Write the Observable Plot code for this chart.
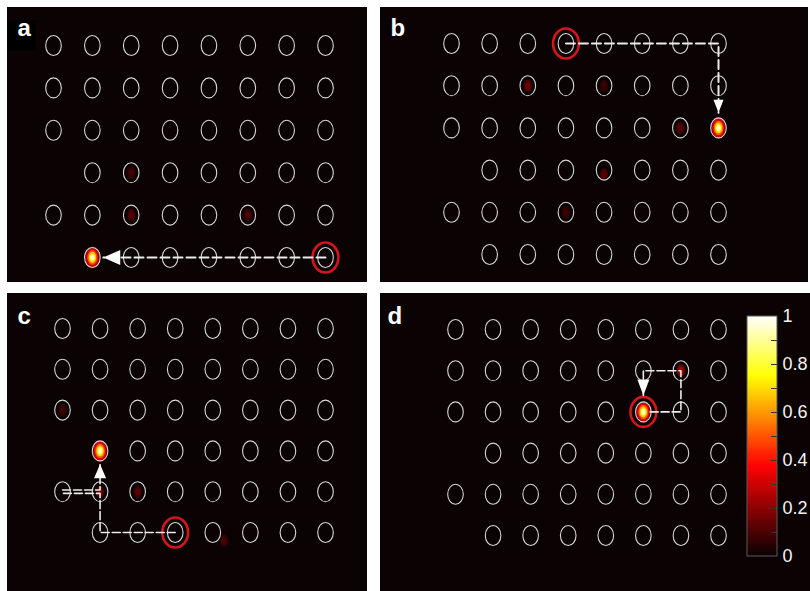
<!DOCTYPE html>
<html><head><meta charset="utf-8">
<script src="https://cdn.jsdelivr.net/npm/d3@7"></script>
<script src="https://cdn.jsdelivr.net/npm/@observablehq/plot@0.6"></script>
<style>
body{margin:0;background:#fff;}
#fig{position:relative;width:810px;height:591px;overflow:hidden;background:#fff;font-family:"Liberation Sans",Arial,sans-serif;}
.panel{position:absolute;}
.panel svg{display:block;max-width:none;}
</style></head><body><div id="fig"></div>
<script>
// ---- data ----
const columns = [0,1,2,3,4,5,6,7];
const rows = [0,1,2,3,4,5];
const emptySites = [[0,3],[0,5]];
const panelLabels = ["a","b","c","d"];
// start site (red circle) and final atom (bright spot), [column,row]
const startA = [7,5], startB = [3,0], startC = [3,5], startD = [5,2];
const atomA = [1,5], atomB = [7,2], atomC = [1,3], atomD = [5,2];
// move paths in grid units
const pathA = [[7,5],[1.28,5]];
const pathB = [[3,0],[7,0],[7,1.64]];
const pathC1 = [[3,5],[1,5],[1,4.04],[0,4.04]];
const pathC2 = [[0,3.96],[1,3.96],[1,3.33]];
const pathD = [[5.18,2],[6,2],[6,1],[5,1],[5,1.6]];
// arrow tips [column,row,direction]
const tipA = [1.28,5,"left"], tipB = [7,1.64,"down"], tipC = [1,3.33,"up"], tipD = [5,1.6,"down"];
// faint residual fluorescence [column,row,intensity]
const faintA = [[2,3,0.06],[2,4,0.08],[5,4,0.07]];
const faintB = [[2,1,0.1],[4,1,0.05],[6,2,0.08],[4,3.1,0.08],[3,4,0.05]];
const faintC = [[0,2,0.05],[1,4,0.1],[2,4,0.08],[4.3,5.2,0.06]];
const faintD = [[6,1,0.16]];
// colour bar
const colorbarTicks = [0,0.2,0.4,0.6,0.8,1];
const colorbarMinor = [0.1,0.2,0.3,0.4,0.5,0.6,0.7,0.8,0.9];

// ---- styles / geometry ----
const BG = "#0b0203";
const geo = {
  a:{left:7,top:7,width:360,height:275,x:[46,318],y:[38,250],dash:"9,4",sw:2,arrow:[17,15]},
  b:{left:380,top:7,width:428,height:275,x:[71,338],y:[36,247],dash:"9,4",sw:2,arrow:[13,10]},
  c:{left:7,top:293,width:360,height:298,x:[55,318],y:[35,239],dash:"8,3",sw:1.6,arrow:[14,12]},
  d:{left:380,top:293,width:430,height:298,x:[75,338],y:[36,242],dash:"8,3",sw:1.6,arrow:[16,12]}
};
const glowLayers = [{v:0.16,r:11},{v:0.32,r:9.2},{v:0.5,r:7.2},{v:0.68,r:5.4},{v:0.85,r:3.6},{v:0.98,r:2}];

function hot(t){
  const r = Math.min(1, t/0.375), g = Math.max(0, Math.min(1,(t-0.375)/0.375)), b = Math.max(0, Math.min(1,(t-0.75)/0.25));
  return d3.rgb(11 + r*244, 2 + g*253, 3 + b*252) + "";
}
function ellipse(aspect){
  return {draw(ctx, size){
    const ry = Math.sqrt(size/Math.PI), rx = ry*aspect, k = 0.5523;
    ctx.moveTo(rx,0);
    ctx.bezierCurveTo(rx,k*ry,k*rx,ry,0,ry);
    ctx.bezierCurveTo(-k*rx,ry,-rx,k*ry,-rx,0);
    ctx.bezierCurveTo(-rx,-k*ry,-k*rx,-ry,0,-ry);
    ctx.bezierCurveTo(k*rx,-ry,rx,-k*ry,rx,0);
    ctx.closePath();
  }};
}
function arrowHead(dir, L, W){
  return {draw(ctx){
    const h = W/2;
    ctx.moveTo(0,0);
    if(dir==="left"){ctx.lineTo(L,-h);ctx.lineTo(L,h);}
    else if(dir==="right"){ctx.lineTo(-L,-h);ctx.lineTo(-L,h);}
    else if(dir==="up"){ctx.lineTo(-h,L);ctx.lineTo(h,L);}
    else {ctx.lineTo(-h,-L);ctx.lineTo(h,-L);}
    ctx.closePath();
  }};
}
function box(w,h,x0,y0){ return {draw(ctx){ ctx.rect(x0,y0,w,h); }}; }

const sites = d3.cross(columns, rows).filter(([c,r]) => !emptySites.some(([ec,er]) => ec===c && er===r));

function makePanel(key, label, start, atom, paths, tip, faint){
  const g = geo[key];
  const glow = [];
  for (const L of glowLayers) glow.push({c:atom[0], r:atom[1], v:L.v, s:L.r});
  for (const [c,r,f] of faint){ glow.push({c,r,v:f,s:6}); glow.push({c,r,v:f*1.5,s:3.5}); }
  glow.sort((p,q)=>q.s-p.s);
  const marks = [];
  if (key==="a") marks.push(Plot.dot([0], {frameAnchor:"top-left", symbol:box(28,30,0,13), fill:"#000", stroke:null}));
  marks.push(
    Plot.dot(glow, {x:"c", y:"r", r:"s", fill:"v", symbol:ellipse(0.68), stroke:null, ariaLabel:"glow"}),
    Plot.dot(sites, {x:d=>d[0], y:d=>d[1], r:10, symbol:ellipse(0.78), fill:"none", stroke:"#d6d6d6", strokeWidth:1.1}),
    Plot.dot([start], {x:d=>d[0], y:d=>d[1], r:15, symbol:ellipse(0.86), fill:"none", stroke:"#d4151b", strokeWidth:2.6})
  );
  for (const p of paths) marks.push(Plot.line(p, {x:d=>d[0], y:d=>d[1], stroke:"#ececec", strokeWidth:g.sw, strokeDasharray:g.dash, curve:"linear"}));
  marks.push(Plot.dot([tip], {x:d=>d[0], y:d=>d[1], symbol:arrowHead(tip[2], g.arrow[0], g.arrow[1]), fill:"#ffffff", stroke:null}));
  marks.push(Plot.text([label], {frameAnchor:"top-left", text:d=>d, dx:key==="d"?7:10, dy:key<"c"?11:13, lineAnchor:"top", fill:"#fff", fontSize:24, fontWeight:"bold", fontFamily:"Liberation Sans, Arial, sans-serif"}));
  const svg = Plot.plot({
    width:g.width, height:g.height, margin:0,
    x:{domain:[0,7], range:g.x, axis:null},
    y:{domain:[0,5], range:g.y, axis:null},
    r:{type:"identity"},
    color:{type:"linear", domain:[0,1], interpolate:hot},
    style:{background:BG, overflow:"visible"},
    marks
  });
  const defs = d3.select(svg).insert("defs", ":first-child");
  defs.append("filter").attr("id","blur"+key).attr("x","-50%").attr("y","-50%").attr("width","200%").attr("height","200%")
    .append("feGaussianBlur").attr("stdDeviation",1.4);
  d3.select(svg).selectAll('g[aria-label="glow"]').attr("filter","url(#blur"+key+")");
  const div = document.createElement("div");
  div.className = "panel";
  div.style.left = g.left+"px"; div.style.top = g.top+"px";
  div.appendChild(svg);
  document.getElementById("fig").appendChild(div);
}

makePanel("a", panelLabels[0], startA, atomA, [pathA], tipA, faintA);
makePanel("b", panelLabels[1], startB, atomB, [pathB], tipB, faintB);
makePanel("c", panelLabels[2], startC, atomC, [pathC1, pathC2], tipC, faintC);
makePanel("d", panelLabels[3], startD, atomD, [pathD], tipD, faintD);

// colour bar
const ramp = d3.range(0, 1, 0.004);
const cb = Plot.plot({
  width:72, height:270,
  marginLeft:2, marginRight:40, marginTop:16, marginBottom:14,
  x:{domain:[0,1], axis:null},
  y:{domain:[0,1], axis:null},
  color:{type:"linear", domain:[0,1], interpolate:hot},
  style:{background:"transparent", overflow:"visible"},
  marks:[
    Plot.rect(ramp, {x1:0, x2:1, y1:d=>d, y2:d=>Math.min(1,d+0.009), fill:d=>d, shapeRendering:"crispEdges"}),
    Plot.ruleY(colorbarMinor, {x1:0.8, x2:1, stroke:"#333", strokeWidth:1}),
    Plot.rect([0], {x1:0, x2:1, y1:0, y2:1, fill:"none", stroke:"#5a5a5a", strokeWidth:1}),
    Plot.axisY(colorbarTicks, {anchor:"right", tickSize:0, tickPadding:5, tickFormat:d=>String(d), fill:"#f2f2f2", fontSize:18, fontFamily:"Liberation Sans, Arial, sans-serif"})
  ]
});
const cdiv = document.createElement("div");
cdiv.className = "panel";
cdiv.style.left = "745px"; cdiv.style.top = "300px";
cdiv.appendChild(cb);
document.getElementById("fig").appendChild(cdiv);
</script></body></html>
